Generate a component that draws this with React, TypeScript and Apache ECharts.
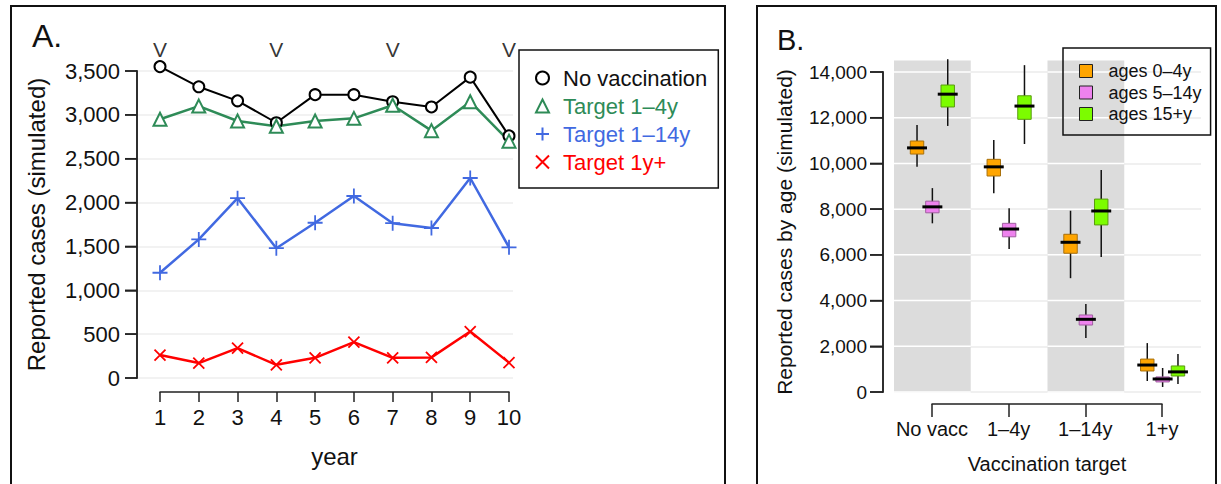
import React, { useEffect, useRef } from 'react';
import * as echarts from 'echarts';

// ---------- Panel A data ----------
const years = [1, 2, 3, 4, 5, 6, 7, 8, 9, 10];
const noVaccination = [3550, 3320, 3160, 2910, 3230, 3230, 3150, 3090, 3430, 2760];
const target1to4 = [2950, 3100, 2930, 2870, 2930, 2960, 3110, 2820, 3150, 2700];
const target1to14 = [1200, 1580, 2050, 1480, 1770, 2075, 1765, 1710, 2280, 1490];
const target1plus = [262, 170, 340, 150, 230, 410, 230, 235, 530, 175];
const vaccinationYears = [1, 4, 7, 10];
const vMarkLevel = 3740;
const yTicksA = [0, 500, 1000, 1500, 2000, 2500, 3000, 3500];

// ---------- Panel B data ----------
const targets = ['No vacc', '1–4y', '1–14y', '1+y'];
const shadedTargets = [0, 2];
const shadeTop = 14500;
const yTicksB = [0, 2000, 4000, 6000, 8000, 10000, 12000, 14000];
// [target index, whisker low, Q1, median, Q3, whisker high]
const ages0to4 = [
  [0, 9850, 10410, 10680, 10980, 11680],
  [1, 8700, 9450, 9850, 10180, 11020],
  [2, 4980, 6070, 6550, 6900, 7930],
  [3, 480, 920, 1180, 1440, 2140],
];
const ages5to14 = [
  [0, 7380, 7840, 8100, 8350, 8920],
  [1, 6260, 6790, 7130, 7380, 8040],
  [2, 2360, 2930, 3180, 3370, 3850],
  [3, 220, 440, 570, 660, 1050],
];
const ages15plus = [
  [0, 11640, 12470, 13030, 13430, 14560],
  [1, 10850, 11930, 12510, 12960, 14300],
  [2, 5910, 7310, 7920, 8440, 9710],
  [3, 350, 700, 880, 1140, 1660],
];

const FONT = 'Liberation Sans, Arial, Helvetica, sans-serif';
const INK = '#111';
const AXLINE = { color: '#222', width: 1.5 };
const fmt = (v: number) => v.toLocaleString('en-US');

const PLUS = 'path://M5,0 L5,10 M0,5 L10,5';
const CROSS = 'path://M0,0 L10,10 M0,10 L10,0';

const makeBoxRender = (offset: number, fill: string, stroke: string) => (params: any, api: any) => {
  const cat = api.value(0);
  const bw = api.size([1, 0])[0];
  const lo = api.coord([cat, api.value(1)]);
  const q1 = api.coord([cat, api.value(2)]);
  const med = api.coord([cat, api.value(3)]);
  const q3 = api.coord([cat, api.value(4)]);
  const hi = api.coord([cat, api.value(5)]);
  const xc = lo[0] + offset * bw;
  const boxW = 0.175 * bw;
  const medW = 0.26 * bw;
  return {
    type: 'group',
    children: [
      { type: 'line', shape: { x1: xc, y1: hi[1], x2: xc, y2: lo[1] }, style: { stroke: '#111', lineWidth: 1.5 } },
      { type: 'rect', shape: { x: xc - boxW / 2, y: q3[1], width: boxW, height: q1[1] - q3[1] }, style: { fill, stroke, lineWidth: 1 } },
      { type: 'line', shape: { x1: xc - medW / 2, y1: med[1], x2: xc + medW / 2, y2: med[1] }, style: { stroke: '#000', lineWidth: 3 } },
    ],
  };
};

const shadeRender = (params: any, api: any) => {
  const cat = api.value(0);
  const bw = api.size([1, 0])[0];
  const base = api.coord([cat, 0]);
  const top = api.coord([cat, api.value(1)]);
  const x0 = base[0] - bw / 2;
  const children: any[] = [
    { type: 'rect', shape: { x: x0, y: top[1], width: bw, height: base[1] - top[1] }, style: { fill: '#dcdcdc' } },
  ];
  yTicksB.forEach((v) => {
    const p = api.coord([cat, v]);
    children.push({ type: 'line', shape: { x1: x0, y1: p[1], x2: x0 + bw, y2: p[1] }, style: { stroke: '#fff', lineWidth: 1.5 } });
  });
  return { type: 'group', children };
};

// R-style y axis (line over the tick range, ticks pointing outward): drawn as thin rectangles
// whose pixel positions come from the axis scale (ticks are 0..max evenly spaced, so px step = span / (n-1)).
const axisPieces = (xAxisPx: number, yBottomPx: number, yTopPx: number, nTicks: number, tickLen: number) => {
  const els: any[] = [
    { type: 'rect', z: 1000, zlevel: 1, silent: true, shape: { x: xAxisPx - 0.75, y: yTopPx - 0.75, width: 1.5, height: yBottomPx - yTopPx + 1.5 }, style: { fill: '#222' } },
  ];
  const step = (yBottomPx - yTopPx) / (nTicks - 1);
  for (let i = 0; i < nTicks; i++) {
    const y = yBottomPx - i * step;
    els.push({ type: 'rect', z: 1000, zlevel: 1, silent: true, shape: { x: xAxisPx - tickLen, y: y - 0.75, width: tickLen, height: 1.5 }, style: { fill: '#222' } });
  }
  return els;
};

export default function App() {
  const ref = useRef<HTMLDivElement>(null);
  useEffect(() => {
    if (!ref.current) return;
    const chart = echarts.init(ref.current, null, { renderer: 'svg' });
    const pair = (arr: number[]) => years.map((y, i) => [y, arr[i]]);
    const gridA = { left: 137, right: 708, top: 71, bottom: 106 };
    const gridBy = { left: 883, right: 20, top: 72, bottom: 92 };
    const H = 484;
    const option: any = {
      animation: false,
      backgroundColor: '#fff',
      textStyle: { fontFamily: FONT, color: INK },
      grid: [
        gridA, // A: y axis + gridlines
        { left: 160, right: 712, top: 71, bottom: 106 }, // A: data + x axis
        { left: 894, right: 20, top: 72, bottom: 92 }, // B: data bands
        { left: 932, right: 59, top: 72, bottom: 92 }, // B: x axis
        gridBy, // B: y axis
      ],
      xAxis: [
        { gridIndex: 0, type: 'value', min: 0, max: 1, show: false },
        {
          gridIndex: 1, type: 'value', min: 1, max: 10, interval: 1, offset: 14, position: 'bottom', z: 5,
          axisLine: { show: true, onZero: false, lineStyle: AXLINE },
          axisTick: { show: true, length: 10, lineStyle: AXLINE },
          axisLabel: { show: true, fontSize: 22, color: INK, margin: 14, fontFamily: FONT },
          splitLine: { show: false },
          name: 'year', nameLocation: 'middle', nameGap: 52,
          nameTextStyle: { fontSize: 24, color: INK, fontFamily: FONT },
        },
        { gridIndex: 2, type: 'category', data: targets, boundaryGap: true, show: false },
        {
          gridIndex: 3, type: 'category', data: targets, boundaryGap: false, offset: 12, position: 'bottom', z: 5,
          axisLine: { show: true, onZero: false, lineStyle: AXLINE },
          axisTick: { show: true, length: 13, lineStyle: AXLINE },
          axisLabel: { show: true, fontSize: 20, color: INK, margin: 15, fontFamily: FONT, interval: 0 },
          splitLine: { show: false },
          name: 'Vaccination target', nameLocation: 'middle', nameGap: 50,
          nameTextStyle: { fontSize: 20, color: INK, fontFamily: FONT },
        },
        { gridIndex: 4, type: 'value', min: 0, max: 1, show: false },
      ],
      yAxis: [
        {
          gridIndex: 0, type: 'value', min: 0, max: 3500, interval: 500, position: 'left',
          axisLine: { show: true, onZero: false, lineStyle: AXLINE },
          axisTick: { show: true, length: 12, lineStyle: AXLINE },
          axisLabel: { show: true, fontSize: 22, color: INK, margin: 17, formatter: fmt, fontFamily: FONT },
          splitLine: { show: true, lineStyle: { color: '#eeeeee', width: 1.5 } },
          name: 'Reported cases (simulated)', nameLocation: 'middle', nameGap: 89,
          nameTextStyle: { fontSize: 24, color: INK, fontFamily: FONT },
        },
        { gridIndex: 1, type: 'value', min: 0, max: 3500, interval: 500, show: false },
        {
          gridIndex: 2, type: 'value', min: 0, max: 14000, interval: 2000,
          axisLine: { show: false }, axisTick: { show: false }, axisLabel: { show: false },
          splitLine: { show: true, lineStyle: { color: '#ebebeb', width: 1.5 } },
        },
        { gridIndex: 3, type: 'value', min: 0, max: 1, show: false },
        {
          gridIndex: 4, type: 'value', min: 0, max: 14000, interval: 2000, position: 'left',
          axisLine: { show: true, onZero: false, lineStyle: AXLINE },
          axisTick: { show: true, length: 13, lineStyle: AXLINE },
          axisLabel: { show: true, fontSize: 19, color: INK, margin: 16, formatter: fmt, fontFamily: FONT },
          splitLine: { show: false },
          name: 'Reported cases by age (simulated)', nameLocation: 'middle', nameGap: 88,
          nameTextStyle: { fontSize: 21, color: INK, fontFamily: FONT },
        },
      ],
      legend: [
        {
          orient: 'vertical', left: 519, top: 50,
          padding: [17, 11, 15, 16], itemGap: 6, itemWidth: 13, itemHeight: 13,
          borderColor: '#111', borderWidth: 1.5,
          textStyle: { fontSize: 22, fontFamily: FONT, padding: [0, 0, 0, 9] },
          data: [
            { name: 'No vaccination', icon: 'emptyCircle', textStyle: { color: '#111' } },
            { name: 'Target 1–4y', icon: 'emptyTriangle', textStyle: { color: '#2E8B57' } },
            { name: 'Target 1–14y', icon: PLUS, textStyle: { color: '#4169E1' } },
            { name: 'Target 1y+', icon: CROSS, textStyle: { color: '#FF0000' } },
          ],
        },
        {
          orient: 'vertical', left: 1063, top: 48,
          padding: [14, 9, 12, 16], itemGap: 3.5, itemWidth: 13, itemHeight: 13,
          borderColor: '#111', borderWidth: 1.5,
          itemStyle: { borderColor: '#222', borderWidth: 1 },
          textStyle: { fontSize: 18, fontFamily: FONT, color: INK, padding: [0, 0, 0, 11] },
          data: [
            { name: 'ages 0–4y', icon: 'rect' },
            { name: 'ages 5–14y', icon: 'rect' },
            { name: 'ages 15+y', icon: 'rect' },
          ],
        },
      ],
      series: [
        {
          name: 'No vaccination', type: 'line', xAxisIndex: 1, yAxisIndex: 1, data: pair(noVaccination),
          symbol: 'emptyCircle', symbolSize: 11, clip: false,
          lineStyle: { color: '#000', width: 2 }, itemStyle: { color: '#000', borderWidth: 1.5 },
        },
        {
          name: 'Target 1–4y', type: 'line', xAxisIndex: 1, yAxisIndex: 1, data: pair(target1to4),
          symbol: 'emptyTriangle', symbolSize: 13, clip: false,
          lineStyle: { color: '#2E8B57', width: 2.5 }, itemStyle: { color: '#2E8B57', borderWidth: 1.5 },
        },
        {
          name: 'Target 1–14y', type: 'line', xAxisIndex: 1, yAxisIndex: 1, data: pair(target1to14),
          symbol: PLUS, symbolSize: 15, clip: false,
          lineStyle: { color: '#4169E1', width: 2.5 }, itemStyle: { color: '#4169E1', borderColor: '#4169E1', borderWidth: 1.8 },
        },
        {
          name: 'Target 1y+', type: 'line', xAxisIndex: 1, yAxisIndex: 1, data: pair(target1plus),
          symbol: CROSS, symbolSize: 11, clip: false,
          lineStyle: { color: '#FF0000', width: 2.5 }, itemStyle: { color: '#FF0000', borderColor: '#FF0000', borderWidth: 1.8 },
        },
        {
          name: 'vaccination', type: 'scatter', xAxisIndex: 1, yAxisIndex: 1,
          data: vaccinationYears.map((y) => [y, vMarkLevel]), symbolSize: 1, clip: false,
          itemStyle: { color: 'rgba(0,0,0,0)' }, silent: true,
          label: { show: true, position: 'inside', formatter: 'V', fontSize: 21, color: '#000', fontFamily: FONT },
        },
        {
          name: 'shade', type: 'custom', xAxisIndex: 2, yAxisIndex: 2, z: 1, silent: true, clip: false,
          data: shadedTargets.map((i) => [i, shadeTop]), encode: { x: 0, y: 1 },
          renderItem: shadeRender,
        },
        {
          name: 'ages 0–4y', type: 'custom', xAxisIndex: 2, yAxisIndex: 2, z: 3, clip: false,
          data: ages0to4, encode: { x: 0, y: [1, 2, 3, 4, 5] },
          itemStyle: { color: '#FFA500', borderColor: '#222' },
          renderItem: makeBoxRender(-0.2, '#FFA500', '#a8700c'),
        },
        {
          name: 'ages 5–14y', type: 'custom', xAxisIndex: 2, yAxisIndex: 2, z: 3, clip: false,
          data: ages5to14, encode: { x: 0, y: [1, 2, 3, 4, 5] },
          itemStyle: { color: '#EE82EE', borderColor: '#222' },
          renderItem: makeBoxRender(0, '#EE82EE', '#a060a0'),
        },
        {
          name: 'ages 15+y', type: 'custom', xAxisIndex: 2, yAxisIndex: 2, z: 3, clip: false,
          data: ages15plus, encode: { x: 0, y: [1, 2, 3, 4, 5] },
          itemStyle: { color: '#7CFC00', borderColor: '#222' },
          renderItem: makeBoxRender(0.2, '#7CFC00', '#5a9a10'),
        },
      ],
      graphic: [
        { type: 'rect', silent: true, shape: { x: 11, y: 6, width: 714, height: 492 }, style: { fill: 'none', stroke: '#111', lineWidth: 2 } },
        { type: 'rect', silent: true, shape: { x: 757, y: 6, width: 459, height: 492 }, style: { fill: 'none', stroke: '#111', lineWidth: 2 } },
        { type: 'text', silent: true, x: 32, y: 36, style: { text: 'A.', fontSize: 32, fontFamily: FONT, fill: INK, verticalAlign: 'middle' } },
        { type: 'text', silent: true, x: 777, y: 40, style: { text: 'B.', fontSize: 29, fontFamily: FONT, fill: INK, verticalAlign: 'middle' } },
        ...axisPieces(gridA.left, H - gridA.bottom, gridA.top, yTicksA.length, 12),
        ...axisPieces(gridBy.left, H - gridBy.bottom, gridBy.top, yTicksB.length, 13),
      ],
    };
    chart.setOption(option);
    return () => chart.dispose();
  }, []);
  return <div ref={ref} style={{ position: 'absolute', left: 0, top: 0, width: 1221, height: 484 }} />;
}
